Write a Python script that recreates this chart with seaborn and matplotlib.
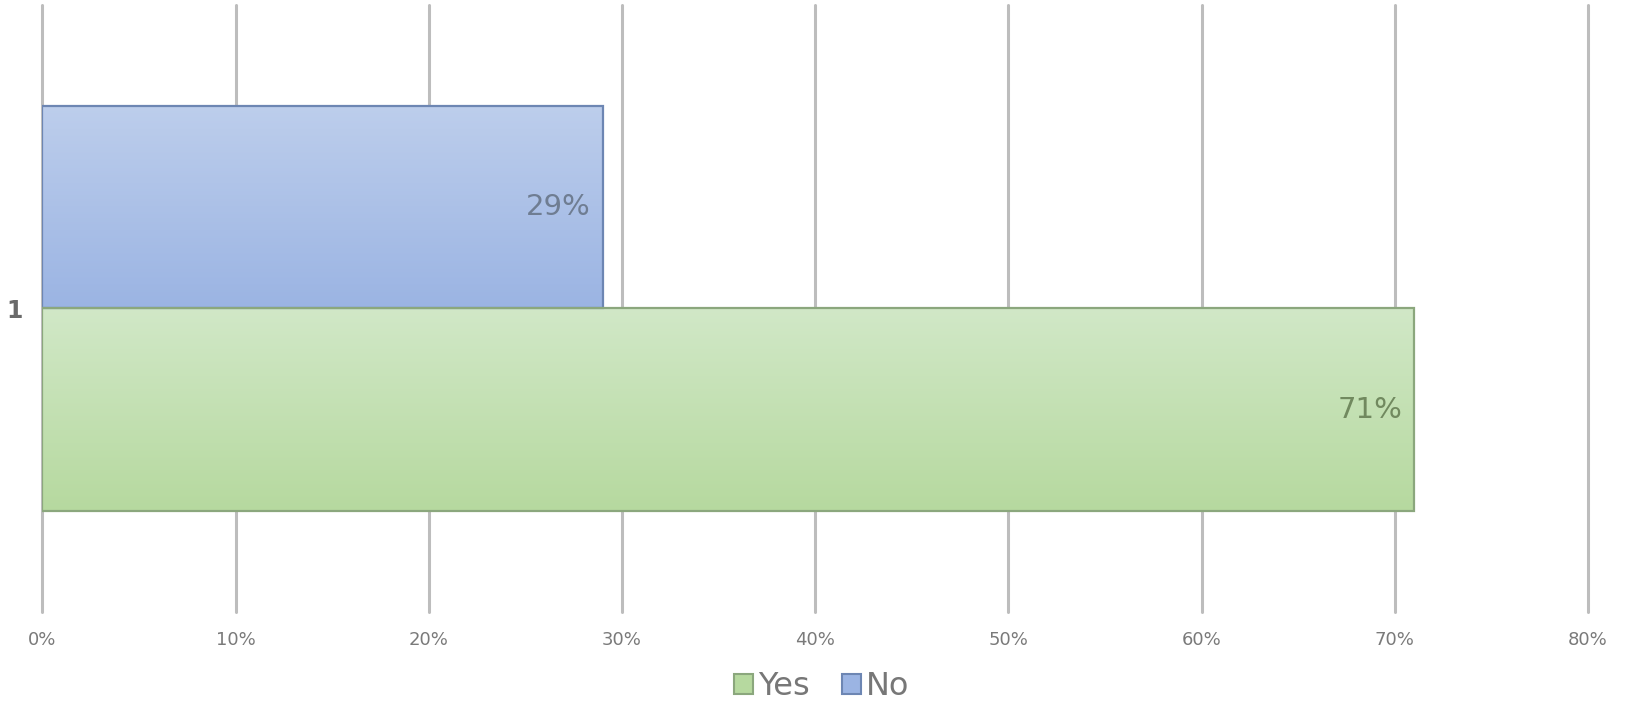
import numpy as np
import pandas as pd
import matplotlib
matplotlib.use("Agg")
import matplotlib.pyplot as plt
from matplotlib.patches import Patch
from matplotlib.colors import LinearSegmentedColormap
from matplotlib.transforms import offset_copy
import seaborn as sns

# Survey answers, one question
question = ["1"]
answers = ["No", "Yes"]
shares = [0.29, 0.71]
x_ticks = [0.0, 0.1, 0.2, 0.3, 0.4, 0.5, 0.6, 0.7, 0.8]
x_tick_labels = ["0%", "10%", "20%", "30%", "40%", "50%", "60%", "70%", "80%"]

df = pd.DataFrame({"question": question * len(answers),
                   "answer": answers,
                   "share": shares})

top_colors = {"No": "#bdceec", "Yes": "#d1e8c7"}
bottom_colors = {"No": "#9bb4e3", "Yes": "#b6d99f"}
edge_colors = {"No": "#6d86b3", "Yes": "#8ba77d"}
label_colors = {"No": "#6f7d92", "Yes": "#71895f"}

sns.set_theme(style="white")
plt.rcParams["font.family"] = ["DejaVu Sans"]

fig = plt.figure(figsize=(16.27, 7.01), dpi=100)
ax = fig.add_axes([0.026, 0.127, 0.950, 0.866])

sns.barplot(data=df, x="share", y="question", hue="answer",
            hue_order=answers, orient="h", width=0.8,
            palette=[bottom_colors[a] for a in answers],
            legend=False, ax=ax, zorder=3)

# Vertical gradient fill for each bar, clipped to the bar outline
bars = list(ax.patches)
for bar, ans, val in zip(bars, answers, shares):
    x0, y0 = bar.get_x(), bar.get_y()
    w, h = bar.get_width(), bar.get_height()
    cmap = LinearSegmentedColormap.from_list(
        ans, [top_colors[ans], bottom_colors[ans]])
    grad = np.linspace(0, 1, 256).reshape(-1, 1)
    im = ax.imshow(grad, cmap=cmap, aspect="auto",
                   extent=[x0, x0 + w, y0 + h, y0], zorder=3.1,
                   interpolation="bilinear")
    im.set_clip_path(bar)
    bar.set_facecolor("none")
    bar.set_edgecolor(edge_colors[ans])
    bar.set_linewidth(1.6)
    bar.set_zorder(3.2)
    ax.text(val, y0 + h / 2, f"{val:.0%}",
            transform=offset_copy(ax.transData, fig=fig, x=-12, y=0,
                                  units="dots"),
            ha="right", va="center", fontsize=21,
            color=label_colors[ans], zorder=4)

ax.set_xlim(0, 0.8)
ax.set_ylim(0.6, -0.6)
ax.set_xticks(x_ticks)
ax.set_xticklabels(x_tick_labels)
ax.set_xlabel("")
ax.set_ylabel("")

ax.grid(axis="x", color="#bdbdbd", linewidth=2.2, zorder=0)
ax.grid(axis="y", visible=False)
for gl in ax.xaxis.get_gridlines():
    gl.set_clip_on(False)
for s in ax.spines.values():
    s.set_visible(False)

ax.tick_params(axis="x", length=0, pad=14, labelsize=13,
               labelcolor="#7a7a7a")
ax.tick_params(axis="y", length=0, pad=14, labelsize=17,
               labelcolor="#6a6a6a")
for t in ax.get_yticklabels():
    t.set_fontweight("bold")

legend_order = ["Yes", "No"]
handles = [Patch(facecolor=bottom_colors[a], edgecolor=edge_colors[a],
                 linewidth=1.5, label=a) for a in legend_order]
fig.legend(handles=handles, loc="center", bbox_to_anchor=(0.505, 0.02),
           ncol=2, frameon=False, fontsize=23, labelcolor="#777777",
           handlelength=0.6, handleheight=0.6, handletextpad=0.15,
           columnspacing=1.0)

fig.savefig("out.png", dpi=100, facecolor="white")
